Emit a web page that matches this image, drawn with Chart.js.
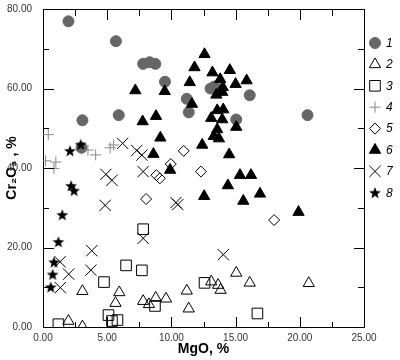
<!DOCTYPE html>
<html><head><meta charset="utf-8">
<script src="https://cdn.jsdelivr.net/npm/chart.js@4.4.1/dist/chart.umd.min.js"></script>
<style>html,body{margin:0;padding:0;background:#fff}</style>
</head><body><canvas id="c" width="400" height="360"></canvas>
<script>
const xTicks=[0,5,10,15,20,25];
const yTicks=[0,20,40,60,80];
const seriesNames=['1','2','3','4','5','6','7','8'];

const mgo1=[1.98,5.68,7.8,8.3,8.75,9.5,3.07,5.9,11.2,11.35,13.05,13.35,16.1,15.05,20.6,3.0];
const cr1=[76.9,71.9,66.2,66.6,66.2,61.7,52.0,53.3,57.4,54.0,60.0,60.5,58.3,52.2,53.3,45.1];

const mgo2=[3.07,5.94,5.65,7.8,8.25,8.78,9.58,11.2,11.35,1.98,3.07,13.1,13.64,13.83,15.05,16.1,20.7];
const cr2=[9.0,8.7,6.0,6.5,5.7,7.3,7.1,9.1,4.6,1.5,0.1,11.4,10.55,9.3,13.6,11.1,11.0];

const mgo3=[7.8,6.47,7.7,4.75,8.72,1.2,5.1,5.37,5.8,12.58,16.7];
const cr3=[24.6,15.5,14.25,11.3,5.3,0.7,3.0,1.5,1.75,11.1,3.4];

const mgo4=[0.41,0.2,1.0,0.85,3.5,4.1,5.23,5.5];
const cr4=[48.4,41.8,41.5,39.9,44.5,43.3,45.1,45.8];

const mgo5=[10.96,9.95,8.83,9.1,8.03,12.3,18.0];
const cr5=[44.3,41.0,38.2,37.4,32.2,39.1,26.9];

const mgo6=[7.19,9.48,7.76,8.8,9.14,8.6,9.9,11.43,11.8,11.6,12.58,13.2,14.55,13.8,15.0,15.86,14.0,13.96,13.5,13.57,14.04,13.1,13.96,15.05,13.57,13.3,13.7,12.4,14.5,15.34,16.2,14.4,12.55,15.6,16.9,19.9];
const cr6=[59.5,59.3,51.7,53.05,47.6,43.5,39.5,61.55,65.3,56.1,68.6,64.0,64.6,62.3,61.1,62.0,60.3,59.1,58.4,54.5,54.7,52.55,52.2,50.3,49.7,48.0,47.4,45.8,43.4,38.2,38.2,35.6,32.9,31.7,33.5,28.9];

const mgo7=[6.2,7.3,7.7,7.8,4.9,5.37,4.84,10.35,10.5,3.8,3.73,1.33,2.0,1.35,7.8,14.04];
const cr7=[46.2,44.4,43.25,39.1,38.4,36.9,30.6,31.3,30.8,19.2,14.3,16.4,13.3,9.9,22.3,18.2];

const mgo8=[2.94,2.1,2.19,2.42,1.5,1.2,0.86,0.75,0.6];
const cr8=[45.9,44.3,35.5,34.3,28.2,21.4,16.3,13.2,10.0];

function pts(xs,ys){return xs.map((x,i)=>({x:x,y:ys[i]}));}

function makeStar(){
  const c=document.createElement('canvas');c.width=14;c.height=14;
  const g=c.getContext('2d');g.fillStyle='#000';g.beginPath();
  const R=6.2,r=2.6,cx=7,cy=7.4;
  for(let i=0;i<10;i++){const a=-Math.PI/2+i*Math.PI/5;const rr=i%2?r:R;
    const px=cx+rr*Math.cos(a),py=cy+rr*Math.sin(a);i?g.lineTo(px,py):g.moveTo(px,py);}
  g.closePath();g.fill();return c;
}
const starImg=makeStar();

const styles=[
 {pointStyle:'circle',radius:5.5,bg:'#666666',bc:'#666666',bw:1,order:10},
 {pointStyle:'triangle',radius:6.5,bg:'rgba(0,0,0,0)',bc:'#000',bw:1,order:5},
 {pointStyle:'rect',radius:7.5,bg:'rgba(0,0,0,0)',bc:'#000',bw:1,order:5},
 {pointStyle:'cross',radius:5.5,bg:'#888',bc:'#888',bw:1,order:5},
 {pointStyle:'rectRot',radius:5.5,bg:'rgba(0,0,0,0)',bc:'#000',bw:1,order:5},
 {pointStyle:'triangle',radius:6.5,bg:'#000',bc:'#000',bw:1,order:4},
 {pointStyle:'crossRot',radius:8,bg:'#000',bc:'#000',bw:1,order:5},
 {pointStyle:starImg,radius:6,bg:'#000',bc:'#000',bw:1,order:3}
];
const allData=[pts(mgo1,cr1),pts(mgo2,cr2),pts(mgo3,cr3),pts(mgo4,cr4),pts(mgo5,cr5),pts(mgo6,cr6),pts(mgo7,cr7),pts(mgo8,cr8)];

const datasets=allData.map((d,i)=>({
  label:seriesNames[i],data:d,pointStyle:styles[i].pointStyle,pointRadius:styles[i].radius,
  pointHoverRadius:styles[i].radius,backgroundColor:styles[i].bg,borderColor:styles[i].bc,
  borderWidth:styles[i].bw,order:styles[i].order,showLine:false
}));

const tickPlugin={id:'ticksIn',afterDraw(chart){
  const ctx=chart.ctx,a=chart.chartArea,xs=chart.scales.x,ys=chart.scales.y;
  ctx.save();ctx.strokeStyle='#000';ctx.lineWidth=1;ctx.beginPath();
  for(let i=0;i<xTicks.length;i++){
    const px=Math.round(xs.getPixelForValue(xTicks[i]))+0.5;
    ctx.moveTo(px,a.bottom);ctx.lineTo(px,a.bottom-10);
    ctx.moveTo(px,a.top);ctx.lineTo(px,a.top+11);
    if(i<xTicks.length-1){const m=Math.round(xs.getPixelForValue((xTicks[i]+xTicks[i+1])/2))+0.5;
      ctx.moveTo(m,a.bottom);ctx.lineTo(m,a.bottom-5);
      ctx.moveTo(m,a.top);ctx.lineTo(m,a.top+7);}
  }
  for(let i=0;i<yTicks.length;i++){
    const py=Math.round(ys.getPixelForValue(yTicks[i]))+0.5;
    ctx.moveTo(a.left,py);ctx.lineTo(a.left+11,py);
    ctx.moveTo(a.right,py);ctx.lineTo(a.right-10,py);
    if(i<yTicks.length-1){const m=Math.round(ys.getPixelForValue((yTicks[i]+yTicks[i+1])/2))+0.5;
      ctx.moveTo(a.left,m);ctx.lineTo(a.left+6,m);
      ctx.moveTo(a.right,m);ctx.lineTo(a.right-6,m);}
  }
  ctx.stroke();
  chart.data.datasets.forEach((ds,i)=>{
    const y=43+i*21.4,x=375;
    ctx.save();
    ctx.fillStyle=ds.backgroundColor;ctx.strokeStyle=ds.borderColor;ctx.lineWidth=1;
    Chart.helpers.drawPoint(ctx,{pointStyle:ds.pointStyle,rotation:0,radius:ds.pointRadius,borderWidth:1},x,y);
    ctx.restore();
    ctx.fillStyle='#000';ctx.font='italic 12px "Liberation Sans", Arial, sans-serif';
    ctx.textBaseline='middle';ctx.textAlign='left';
    ctx.fillText(ds.label,386,y+0.5);
  });
  ctx.restore();
}};

const tickFont={family:'"Liberation Sans", Arial, sans-serif',size:10};
new Chart(document.getElementById('c'),{
  type:'scatter',
  data:{datasets:datasets},
  plugins:[tickPlugin],
  options:{
    responsive:false,animation:false,
    layout:{padding:0},
    plugins:{legend:{display:false},tooltip:{enabled:false}},
    scales:{
      x:{type:'linear',position:'bottom',min:0,max:25,
        afterBuildTicks(s){s.ticks=xTicks.map(v=>({value:v}));},
        ticks:{callback:v=>v.toFixed(2),font:tickFont,color:'#333',padding:-3,maxRotation:0,autoSkip:false},
        grid:{display:false},border:{display:true,color:'#000',width:1},
        title:{display:true,text:'MgO, %',font:{family:'"Liberation Sans", Arial, sans-serif',size:14,weight:'bold'},color:'#000',padding:{top:0,bottom:2}},
        afterFit(s){s.height=33;}},
      x2:{type:'linear',position:'top',min:0,max:25,display:true,
        ticks:{display:false},grid:{display:false},border:{display:true,color:'#000',width:1},
        afterFit(s){s.height=5;}},
      y:{type:'linear',position:'left',min:0,max:80,
        afterBuildTicks(s){s.ticks=yTicks.map(v=>({value:v}));},
        ticks:{callback:v=>v.toFixed(2),font:tickFont,color:'#333',padding:3,autoSkip:false},
        grid:{display:false},border:{display:true,color:'#000',width:1},
        title:{display:true,text:'Cr\u2082O\u2083 , %',font:{family:'"Liberation Sans", Arial, sans-serif',size:14,weight:'bold'},color:'#000',padding:{top:4,bottom:0}},
        afterFit(s){s.width=43;}},
      y2:{type:'linear',position:'right',min:0,max:80,display:true,
        ticks:{display:false},grid:{display:false},border:{display:true,color:'#000',width:1},
        afterFit(s){s.width=36;}}
    }
  }
});
</script></body></html>
